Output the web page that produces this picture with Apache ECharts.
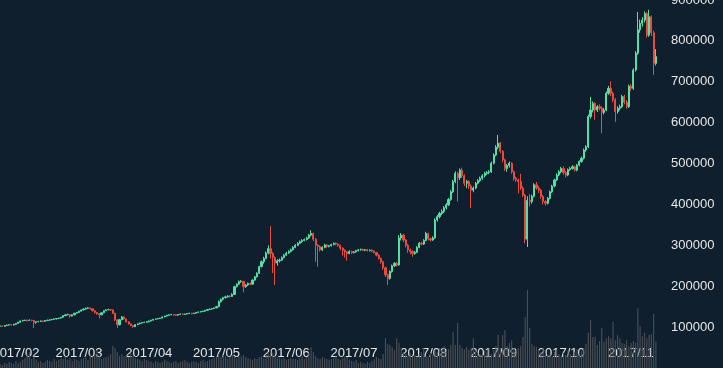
<!DOCTYPE html>
<html><head><meta charset="utf-8">
<script src="https://cdn.jsdelivr.net/npm/echarts@6/dist/echarts.min.js"></script>
<style>html,body{margin:0;padding:0;background:#0f1f2d;}#c{width:723px;height:368px;}</style>
</head><body><div id="c"></div>
<script>
// Daily BTC/JPY candles, 2017/01/25 .. 2017/11/12, values in thousands of JPY
const startDate = '2017-01-25';
const opens = [
102,103,102,104,105,106,105,107,109,112,
115,116,117,116,117,116,112,113,114,115,
114,116,117,118,119,120,121,122,124,128,
130,131,127,130,134,136,139,142,144,146,
147,145,140,136,133,130,135,140,142,143,
142,134,118,106,118,125,120,113,108,104,
101,106,108,110,111,112,113,115,117,119,
120,121,122,125,127,129,130,131,130,129,
131,132,131,132,133,134,133,134,136,137,
138,139,141,143,144,145,147,150,162,168,
172,174,176,175,180,199,205,211,212,199,
203,207,205,215,223,232,248,260,268,281,
292,280,270,257,262,264,270,276,281,285,
289,295,300,305,309,312,314,318,325,329,
315,300,297,289,295,301,297,299,302,305,
303,300,293,288,284,280,285,282,284,287,
289,290,288,289,287,288,286,282,276,268,
260,245,228,219,236,250,256,252,318,325,
313,300,289,285,280,283,295,305,303,312,
329,316,313,318,362,370,378,383,392,399,
412,431,456,476,465,484,470,452,456,445,
435,440,452,458,464,470,476,478,480,501,
521,540,550,530,509,488,495,501,480,464,
460,456,440,423,315,410,407,420,448,440,
435,420,407,403,415,431,445,460,472,480,
488,478,472,485,488,492,484,496,505,513,
533,541,615,631,647,631,639,635,625,631,
672,684,672,656,627,635,639,664,650,639,
689,684,729,770,827,843,851,867,814,859,
820,745];
const closes = [
103,102,104,105,106,105,107,109,112,115,
116,117,116,117,116,112,113,114,115,114,
116,117,118,119,120,121,122,124,128,130,
131,127,130,134,136,139,142,144,146,147,
145,140,136,133,130,135,140,142,143,142,
134,118,106,118,125,120,113,108,104,101,
106,108,110,111,112,113,115,117,119,120,
121,122,125,127,129,130,131,130,129,131,
132,131,132,133,134,133,134,136,137,138,
139,141,143,144,145,147,150,162,168,172,
174,176,175,180,199,205,211,212,199,203,
207,205,215,223,232,248,260,268,281,292,
280,270,257,262,264,270,276,281,285,289,
295,300,305,309,312,314,318,325,329,315,
300,297,289,295,301,297,299,302,305,303,
300,293,288,284,280,285,282,284,287,289,
290,288,289,287,288,286,282,276,268,260,
245,228,219,236,250,256,252,318,325,313,
300,289,285,280,283,295,305,303,312,329,
316,313,318,362,370,378,383,392,399,412,
431,456,476,465,484,470,452,456,445,435,
440,452,458,464,470,476,478,480,501,521,
540,550,530,509,488,495,501,480,464,460,
456,440,423,315,410,407,420,448,440,435,
420,407,403,415,431,445,460,472,480,488,
478,472,485,488,492,484,496,505,513,533,
541,615,631,647,631,639,635,625,631,672,
684,672,656,627,635,639,664,650,639,689,
684,729,770,827,843,851,867,814,859,820,
745,762];
const lows = [
100,101,101,103,104,104,104,106,108,111,
114,115,114,115,114,98,108,112,113,113,
113,115,116,117,118,119,120,121,123,127,
129,123,126,129,133,135,138,141,143,144,
143,138,133,130,121,129,134,139,141,140,
132,115,98,104,117,118,111,106,102,98,
100,105,107,109,110,111,112,114,116,118,
119,120,121,124,126,128,129,128,127,128,
130,130,130,131,132,131,132,133,135,136,
137,138,140,142,143,144,146,149,160,165,
170,172,172,174,179,197,203,208,185,196,
201,202,204,213,221,230,246,255,266,278,
268,232,203,250,258,262,268,274,279,283,
287,293,298,303,306,310,312,316,322,310,
260,248,285,286,293,294,295,297,300,300,
297,288,275,270,262,278,279,280,282,285,
287,286,286,285,285,283,280,273,265,255,
240,222,203,216,233,247,248,250,312,308,
295,282,278,272,277,281,293,300,301,310,
312,309,311,316,358,366,374,379,388,396,
409,428,452,407,460,465,445,440,438,391,
430,437,449,455,460,466,472,474,477,498,
518,535,525,503,482,480,490,475,458,455,
427,435,418,305,296,395,402,417,436,428,
414,400,397,400,412,428,442,457,469,476,
472,466,469,482,485,480,481,493,502,510,
529,538,610,625,607,626,630,574,620,628,
668,665,650,602,622,630,636,645,634,636,
678,680,725,766,820,835,845,808,810,812,
717,740];
const highs = [
104,104,105,106,107,107,108,110,113,116,
118,118,118,119,118,117,114,115,116,116,
117,118,119,120,121,122,123,125,129,132,
133,132,131,135,137,140,143,146,148,149,
148,146,141,137,134,136,141,144,145,144,
143,135,119,120,127,126,121,114,109,105,
107,109,111,112,113,114,116,118,120,121,
122,123,126,128,130,131,132,132,131,132,
133,133,133,134,135,135,135,137,138,139,
140,142,144,146,147,148,152,165,170,174,
177,178,178,183,201,207,214,215,213,205,
209,209,217,225,234,250,263,272,285,300,
347,284,273,266,268,273,279,284,288,292,
298,303,308,312,315,317,321,328,337,331,
318,303,300,298,304,303,301,304,307,307,
305,302,295,290,286,288,287,286,289,291,
292,292,291,291,290,290,288,284,278,270,
262,248,231,239,253,259,260,325,330,328,
316,303,292,288,286,298,308,309,315,333,
331,319,322,366,374,382,388,396,403,416,
435,460,481,480,488,490,474,460,459,449,
444,455,462,468,474,480,482,484,505,525,
545,570,553,533,512,499,505,503,483,468,
463,475,444,426,420,425,424,452,455,445,
438,423,410,418,434,448,463,476,484,492,
493,482,488,492,496,495,499,508,517,537,
545,620,663,652,650,643,645,640,636,676,
690,701,676,660,640,644,668,668,655,693,
695,733,775,871,852,858,872,870,876,862,
825,780];
const volumes = [
10,7,12,10,15,12,10,17,12,15,20,24,34,39,
22,29,20,15,17,12,15,20,17,15,22,17,20,24,
22,27,20,24,17,22,20,17,22,24,29,20,34,27,32,44,29,
22,24,27,29,34,54,49,39,29,34,29,
32,27,37,29,24,22,20,17,22,20,17,
15,12,17,15,12,15,20,17,15,12,15,17,12,15,17,20,15,12,15,17,15,12,17,20,15,17,
20,22,24,29,34,27,32,29,24,27,32,29,24,27,29,32,27,24,
22,20,24,22,27,29,24,32,39,44,37,29,27,24,22,24,20,22,24,22,
22,20,24,29,22,27,37,51,39,29,24,22,27,24,22,
20,22,24,29,22,20,24,29,27,20,17,15,20,12,15,12,10,15,12,17,22,
27,24,22,34,73,59,56,51,44,73,
61,49,39,34,29,37,27,32,29,
34,39,49,29,27,37,32,44,39,49,
44,54,42,46,56,88,56,
110,56,49,46,51,44,49,73,
44,37,34,32,42,39,49,34,44,
54,81,49,81,93,54,61,68,49,
44,49,54,76,125,191,98,59,
54,51,44,39,49,37,32,34,29,39,44,34,29,37,32,42,34,29,39,46,37,42,
49,59,86,117,76,76,56,66,
98,64,73,78,73,113,68,81,73,61,
59,68,54,61,66,61,147,
103,78,86,73,81,83,132,64];

const UNIT = 1000;
const dates = [];
{
  const t0 = Date.parse(startDate + 'T00:00:00Z');
  for (let i = 0; i < closes.length; i++) {
    const d = new Date(t0 + i * 86400000);
    const mm = String(d.getUTCMonth() + 1).padStart(2, '0');
    const dd = String(d.getUTCDate()).padStart(2, '0');
    dates.push(d.getUTCFullYear() + '/' + mm + '/' + dd);
  }
}
const candleData = closes.map((c, i) => [opens[i] * UNIT, c * UNIT, lows[i] * UNIT, highs[i] * UNIT]);
const volData = volumes.map(v => v * UNIT);

const chart = echarts.init(document.getElementById('c'), null, {renderer: 'canvas'});
const textStyle = {color: '#e6e6e6', fontSize: 13, fontFamily: 'Liberation Sans, Arial, sans-serif'};
chart.setOption({
  animation: false,
  backgroundColor: '#0f1f2d',
  grid: {left: -1, right: 66, top: 0, bottom: 0, containLabel: false, outerBoundsMode: 'none'},
  xAxis: {
    type: 'category',
    data: dates,
    boundaryGap: true,
    axisLine: {show: false},
    axisTick: {show: false},
    splitLine: {show: false},
    axisLabel: Object.assign({
      inside: true,
      margin: 8,
      hideOverlap: false,
      interval: (idx, val) => val.slice(8) === '01',
      formatter: val => val.slice(0, 7)
    }, textStyle)
  },
  yAxis: {
    type: 'value',
    position: 'right',
    min: 0, max: 900000, interval: 100000,
    axisLine: {show: false},
    axisTick: {show: false},
    splitLine: {show: false},
    axisLabel: Object.assign({margin: 14, showMinLabel: false, formatter: v => String(v)}, textStyle)
  },
  series: [
    {
      type: 'bar',
      data: volData,
      barWidth: '50%',
      itemStyle: {color: '#4a4f56'},
      silent: true
    },
    {
      type: 'candlestick',
      data: candleData,
      barWidth: '72%',
      itemStyle: {
        color: '#52e0a4', color0: '#ec4a3c',
        borderColor: '#52e0a4', borderColor0: '#ec4a3c',
        borderWidth: 1
      },
      silent: true
    }
  ]
});
</script>
</body></html>
